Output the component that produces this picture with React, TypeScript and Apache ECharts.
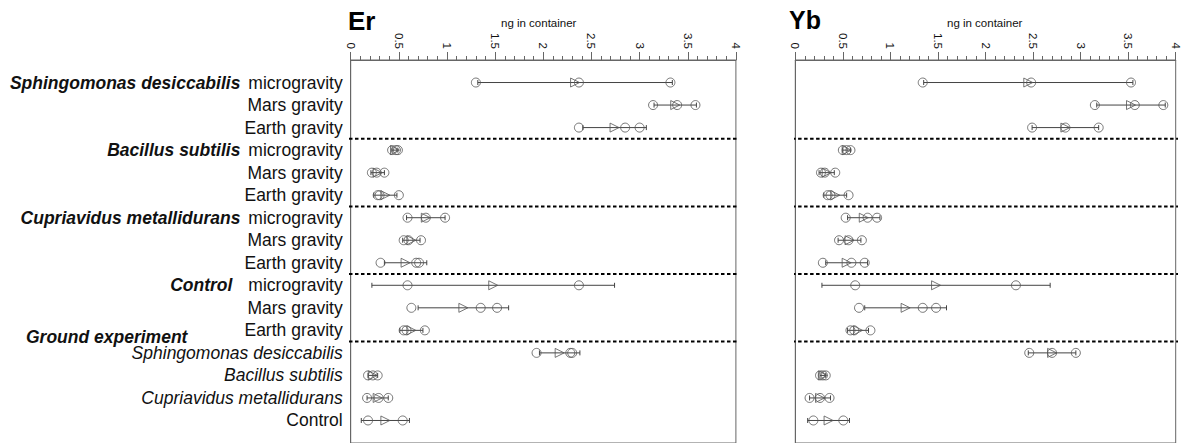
import React, { useEffect, useRef } from "react";
import * as echarts from "echarts";

// Row labels (top to bottom)
const groupLabels = [
  "Sphingomonas desiccabilis", "", "",
  "Bacillus subtilis", "", "",
  "Cupriavidus metallidurans", "", "",
  "Control", "", "",
];
const conditionLabels = [
  "microgravity", "Mars gravity", "Earth gravity",
  "microgravity", "Mars gravity", "Earth gravity",
  "microgravity", "Mars gravity", "Earth gravity",
  "microgravity", "Mars gravity", "Earth gravity",
];
const groundLabels = [
  "Sphingomonas desiccabilis",
  "Bacillus subtilis",
  "Cupriavidus metallidurans",
  "Control",
];
const groundTitle = "Ground experiment";
const xTickLabels = ["0", "0.5", "1", "1.5", "2", "2.5", "3", "3.5", "4"];

// Er: individual replicates, mean and standard deviation (ng in container)
const erReplicates = [
  [1.30, 2.37, 3.32],
  [3.14, 3.39, 3.58],
  [2.37, 2.85, 3.00],
  [0.43, 0.47, 0.49],
  [0.22, 0.27, 0.35],
  [0.28, 0.30, 0.50],
  [0.59, 0.78, 0.98],
  [0.55, 0.60, 0.73],
  [0.31, 0.68, 0.71],
  [0.59, 2.37],
  [0.63, 1.35, 1.52],
  [0.55, 0.58, 0.77],
  [1.93, 2.28, 2.30],
  [0.18, 0.23, 0.28],
  [0.17, 0.29, 0.39],
  [0.18, 0.54],
];
const erMean = [2.33, 3.37, 2.74, 0.46, 0.28, 0.36, 0.78, 0.63, 0.57, 1.48, 1.17, 0.63, 2.17, 0.23, 0.28, 0.36];
const erSd = [1.01, 0.22, 0.33, 0.03, 0.07, 0.12, 0.20, 0.09, 0.22, 1.26, 0.47, 0.12, 0.21, 0.05, 0.11, 0.25];

// Yb: individual replicates, mean and standard deviation (ng in container)
const ybReplicates = [
  [1.34, 2.48, 3.53],
  [3.15, 3.57, 3.87],
  [2.49, 2.84, 3.19],
  [0.50, 0.54, 0.58],
  [0.27, 0.31, 0.42],
  [0.34, 0.37, 0.56],
  [0.53, 0.76, 0.86],
  [0.46, 0.56, 0.70],
  [0.29, 0.59, 0.73],
  [0.63, 2.32],
  [0.67, 1.34, 1.48],
  [0.58, 0.62, 0.79],
  [2.46, 2.70, 2.95],
  [0.26, 0.29, 0.32],
  [0.15, 0.26, 0.36],
  [0.19, 0.505],
];
const ybMean = [2.45, 3.53, 2.84, 0.54, 0.33, 0.42, 0.72, 0.57, 0.54, 1.48, 1.16, 0.66, 2.70, 0.29, 0.26, 0.35];
const ybSd = [1.10, 0.36, 0.35, 0.04, 0.08, 0.12, 0.17, 0.12, 0.22, 1.20, 0.43, 0.11, 0.25, 0.03, 0.11, 0.22];

// Separators between the groups (in row units)
const separators = [3.5, 6.5, 9.5, 12.5];

const FONT = "Liberation Sans";
const AXIS_GRAY = "#666";
const MARK_GRAY = "#555";
const LABEL_SIZE = 17.5;

function rowLabel(i: number): string {
  if (i < 0) return "";
  if (i < groupLabels.length) {
    const g = groupLabels[i];
    const c = conditionLabels[i];
    if (!g) return `{c|${c}}`;
    const style = g === "Control" ? "gw" : "g";
    return `{${style}|${g}}{c|${c}}`;
  }
  const k = i - groupLabels.length;
  const name = groundLabels[k];
  if (name === undefined) return "";
  return name === "Control" ? `{c|${name}}` : `{i|${name}}`;
}

function panelSeries(
  idx: number,
  reps: number[][],
  mean: number[],
  sd: number[],
  sepFrom: number,
  sepTo: number
): any[] {
  const errData = mean.map((m, i) => [m - sd[i], m + sd[i], i + 1]);
  const circleData: number[][] = [];
  reps.forEach((r, i) => r.forEach((v) => circleData.push([v, i + 1])));
  const triData = mean.map((m, i) => [m, i + 1]);
  const lineStyle = { stroke: "#444", lineWidth: 1 };

  const series: any[] = [
    {
      type: "custom",
      xAxisIndex: idx,
      yAxisIndex: idx,
      data: errData,
      encode: { x: [0, 1], y: 2 },
      silent: true,
      renderItem: (_params: any, api: any) => {
        const a = api.coord([api.value(0), api.value(2)]);
        const b = api.coord([api.value(1), api.value(2)]);
        const h = 2.5;
        return {
          type: "group",
          children: [
            { type: "line", shape: { x1: a[0], y1: a[1], x2: b[0], y2: b[1] }, style: lineStyle },
            { type: "line", shape: { x1: a[0], y1: a[1] - h, x2: a[0], y2: a[1] + h }, style: lineStyle },
            { type: "line", shape: { x1: b[0], y1: b[1] - h, x2: b[0], y2: b[1] + h }, style: lineStyle },
          ],
        };
      },
    },
    {
      type: "scatter",
      xAxisIndex: idx,
      yAxisIndex: idx,
      data: circleData,
      symbol: "circle",
      symbolSize: 9,
      itemStyle: { color: "none", borderColor: MARK_GRAY, borderWidth: 1 },
      silent: true,
    },
    {
      type: "scatter",
      xAxisIndex: idx,
      yAxisIndex: idx,
      data: triData,
      symbol: "triangle",
      symbolRotate: -90,
      symbolSize: 9,
      itemStyle: { color: "none", borderColor: MARK_GRAY, borderWidth: 1 },
      silent: true,
    },
  ];
  separators.forEach((s) => {
    series.push({
      type: "line",
      xAxisIndex: idx,
      yAxisIndex: idx,
      data: [
        [sepFrom, s],
        [sepTo, s],
      ],
      clip: false,
      symbol: "none",
      silent: true,
      lineStyle: { color: "#000", width: 2, type: [3.5, 2.5] },
    });
  });
  return series;
}

function xAxis(idx: number): any {
  return {
    type: "value",
    gridIndex: idx,
    position: "top",
    min: 0,
    max: 4,
    interval: 0.5,
    axisLine: { show: true, lineStyle: { color: AXIS_GRAY, width: 1 } },
    axisTick: { show: true, length: 8, lineStyle: { color: AXIS_GRAY } },
    minorTick: { show: true, splitNumber: 5, length: 4, lineStyle: { color: AXIS_GRAY } },
    splitLine: { show: false },
    minorSplitLine: { show: false },
    axisLabel: {
      rotate: -90,
      margin: 11,
      fontSize: 11.5,
      color: "#111",
      fontFamily: FONT,
      showMinLabel: true,
      showMaxLabel: true,
      formatter: (v: number) => xTickLabels[Math.round(v * 2)] ?? "",
    },
  };
}

function yAxis(idx: number, withLabels: boolean): any {
  const base = { fontSize: LABEL_SIZE, fontFamily: FONT, color: "#111" };
  return {
    type: "value",
    gridIndex: idx,
    inverse: true,
    min: 0,
    max: 17,
    interval: 1,
    axisLine: { show: true, lineStyle: { color: AXIS_GRAY, width: 1 } },
    axisTick: { show: false },
    splitLine: { show: false },
    axisLabel: withLabels
      ? {
          margin: 8,
          ...base,
          formatter: (v: number) => rowLabel(Math.round(v) - 1),
          rich: {
            g: { ...base, fontWeight: "bold", fontStyle: "italic", padding: [0, 8, 0, 0] },
            gw: { ...base, fontWeight: "bold", fontStyle: "italic", padding: [0, 16, 0, 0] },
            c: { ...base },
            i: { ...base, fontStyle: "italic" },
          },
        }
      : { show: false },
  };
}

export default function App() {
  const ref = useRef<HTMLDivElement>(null);

  useEffect(() => {
    if (!ref.current) return;
    const chart = echarts.init(ref.current, undefined, { renderer: "svg" });
    const rowH = 22.6;
    const top = 60;
    const height = rowH * 17;

    chart.setOption({
      animation: false,
      backgroundColor: "#fff",
      textStyle: { fontFamily: FONT },
      grid: [
        { left: 350.7, top, width: 385.2, height, show: true, borderColor: AXIS_GRAY, borderWidth: 1, backgroundColor: "transparent" },
        { left: 795.3, top, width: 380.4, height, show: true, borderColor: AXIS_GRAY, borderWidth: 1, backgroundColor: "transparent" },
      ],
      xAxis: [xAxis(0), xAxis(1)],
      yAxis: [yAxis(0, true), yAxis(1, false)],
      series: [
        ...panelSeries(0, erReplicates, erMean, erSd, -0.08, 4.04),
        ...panelSeries(1, ybReplicates, ybMean, ybSd, -0.16, 4.13),
      ],
      graphic: [
        {
          type: "text",
          left: 348,
          top: 8,
          style: { text: "Er", font: `bold 26px "${FONT}"`, fill: "#000" },
        },
        {
          type: "text",
          left: 789,
          top: 7,
          style: { text: "Yb", font: `bold 25px "${FONT}"`, fill: "#000" },
        },
        {
          type: "text",
          x: 538.7,
          y: 23,
          style: { text: "ng in container", font: `11.5px "${FONT}"`, fill: "#111", align: "center", verticalAlign: "middle" },
        },
        {
          type: "text",
          x: 984.7,
          y: 23,
          style: { text: "ng in container", font: `11.5px "${FONT}"`, fill: "#111", align: "center", verticalAlign: "middle" },
        },
        {
          type: "text",
          x: 26,
          y: 337,
          style: { text: groundTitle, font: `italic bold ${LABEL_SIZE}px "${FONT}"`, fill: "#111", align: "left", verticalAlign: "middle" },
        },
      ],
    });

    return () => chart.dispose();
  }, []);

  return (
    <div
      ref={ref}
      style={{ position: "absolute", left: 0, top: 0, width: 1189, height: 443 }}
    />
  );
}
